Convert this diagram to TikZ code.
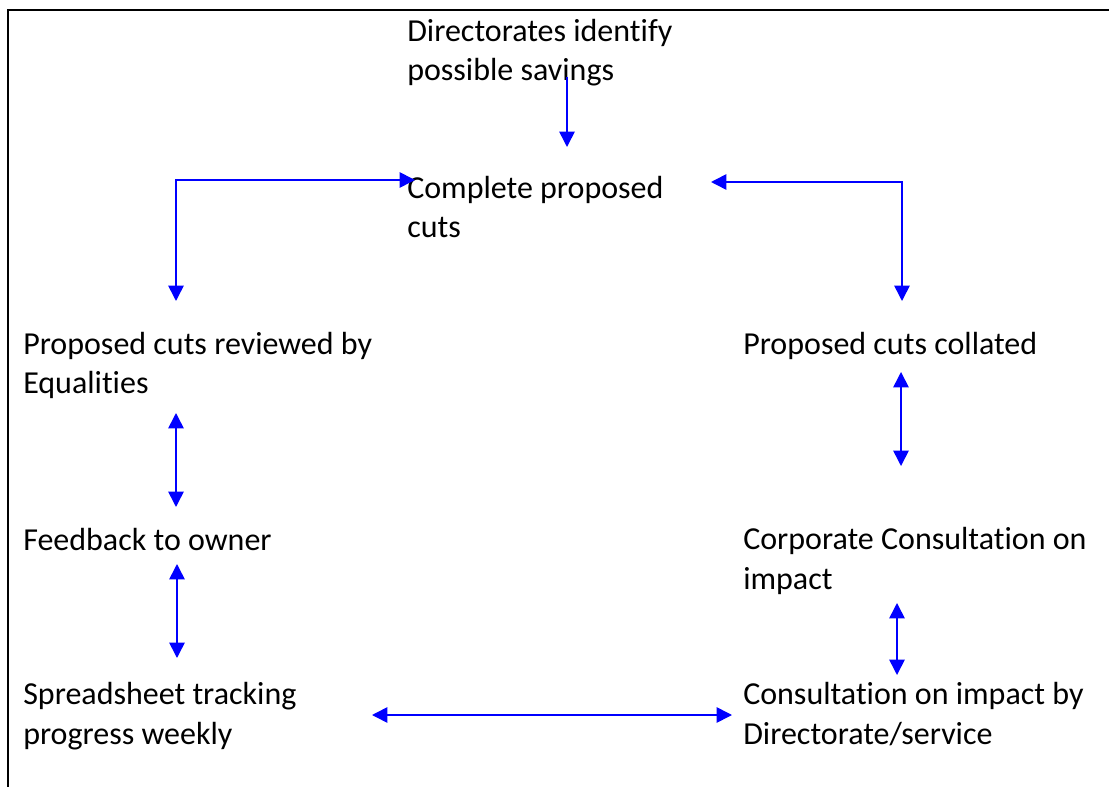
\documentclass[tikz,border=0pt]{standalone}
\usepackage{fontspec}
\setmainfont{Carlito}[Ligatures=NoCommon]
\usetikzlibrary{arrows.meta}

\begin{document}
\begin{tikzpicture}[x=0.75pt, y=-0.75pt,
  box/.style={anchor=base west, align=left, inner sep=0pt,
    font=\fontsize{24}{29.3}\selectfont},
  oneway/.style={blue, line width=1.2pt, -{Triangle[length=11.5pt, width=11.5pt]}},
  twoway/.style={blue, line width=1.2pt, {Triangle[length=11.5pt, width=11.5pt]}-{Triangle[length=11.5pt, width=11.5pt]}}]

\useasboundingbox (0,0) rectangle (1109,787);

% frame, open at the right and bottom
\draw[line width=1.4pt] (8,787) -- (8,10) -- (1109,10);

% steps (base of the last line)
\node[box] (dir)      at (407,81)  {Directorates identify\\possible savings};
\node[box] (complete) at (407,238) {Complete proposed\\cuts};
\node[box] (review)   at (23,394)  {Proposed cuts reviewed by\\Equalities};
\node[box] (collate)  at (743,355) {Proposed cuts collated};
\node[box] (feedback) at (23,550)  {Feedback to owner};
\node[box] (corp)     at (743,589) {Corporate Consultation on\\impact};
\node[box] (sheet)    at (23,744)  {Spreadsheet tracking\\progress weekly};
\node[box] (consult)  at (743,744) {Consultation on impact by\\Directorate/service};

% arrow ends
\coordinate (dir-out)      at (567,77);
\coordinate (complete-in)  at (567,147);
\coordinate (complete-w)   at (415,180);
\coordinate (left-bend)    at (176,180);
\coordinate (review-in)    at (176,301);
\coordinate (complete-e)   at (711,182);
\coordinate (right-bend)   at (902,182);
\coordinate (collate-in)   at (902,301);
\coordinate (review-out)   at (176,413);
\coordinate (feedback-in)  at (176,507);
\coordinate (feedback-out) at (177,564);
\coordinate (sheet-in)     at (177,658);
\coordinate (collate-out)  at (901,372);
\coordinate (corp-in)      at (901,466);
\coordinate (corp-out)     at (897,603);
\coordinate (consult-in)   at (897,675);
\coordinate (sheet-e)      at (372,715);
\coordinate (consult-w)    at (732,715);

\draw[oneway] (dir-out) -- (complete-in);
\draw[twoway] (complete-w) -- (left-bend) -- (review-in);
\draw[twoway] (complete-e) -- (right-bend) -- (collate-in);
\draw[twoway] (review-out) -- (feedback-in);
\draw[twoway] (feedback-out) -- (sheet-in);
\draw[twoway] (collate-out) -- (corp-in);
\draw[twoway] (corp-out) -- (consult-in);
\draw[twoway] (sheet-e) -- (consult-w);

\end{tikzpicture}
\end{document}
